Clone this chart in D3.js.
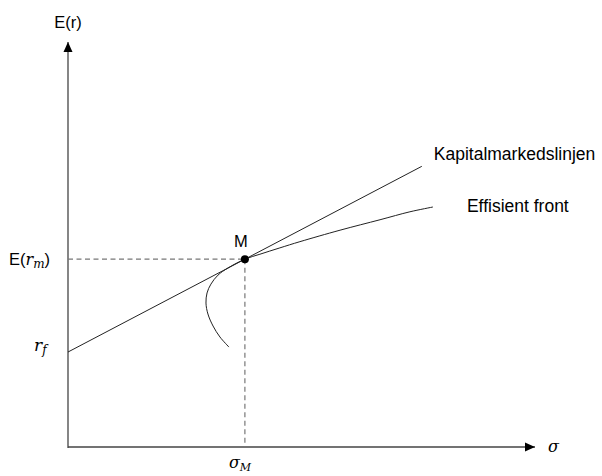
<!DOCTYPE html>
<html>
<head>
<meta charset="utf-8">
<script src="https://cdn.jsdelivr.net/npm/d3@7/dist/d3.min.js"></script>
<style>
  html, body { margin: 0; padding: 0; background: #fff; }
  svg { display: block; }
</style>
</head>
<body>
<svg id="chart" width="602" height="476"></svg>
<script>
// ---- data (sigma = risk, mu = expected return, arbitrary units) ----
const axisExtent = [26.4, 22.9];          // [sigma max, E(r) max]
const riskFree = 5.37;                    // r_f
const marketPoint = [10.0, 10.62];        // [sigma_M, E(r_m)]
const cmlSigma = [0, 20.0];
const cmlMu = [5.37, 15.87];
const frontierSigma = [9.10, 8.59, 8.20, 7.91, 7.80, 7.86, 8.08, 8.48, 9.04, 10.0, 10.85, 11.98, 13.11, 15.38, 17.64, 19.33, 20.63];
const frontierMu    = [5.65, 6.22, 6.84, 7.52, 8.14, 8.71, 9.21, 9.72, 10.12, 10.62, 10.90, 11.26, 11.61, 12.26, 12.85, 13.30, 13.57];
const seriesLabels = ["Kapitalmarkedslinjen", "Effisient front"];
const axisTitles = ["E(r)", "σ"];

// ---- scales ----
const svg = d3.select("#chart");
const x = d3.scaleLinear().domain([0, axisExtent[0]]).range([68, 535]);
const y = d3.scaleLinear().domain([0, axisExtent[1]]).range([447, 42]);

const sans = "'Liberation Sans', Arial, sans-serif";
const serif = "'DejaVu Serif', 'Liberation Serif', serif";
const axisColor = "#444";

// ---- axes (domain lines only) with arrowheads ----
const defs = svg.append("defs");
defs.append("marker")
  .attr("id", "arrow")
  .attr("viewBox", "0 0 10 10")
  .attr("refX", 10).attr("refY", 5)
  .attr("markerWidth", 10).attr("markerHeight", 10)
  .attr("markerUnits", "userSpaceOnUse")
  .attr("orient", "auto")
  .append("path")
  .attr("d", "M0,0.5 L10,5 L0,9.5 Z")
  .attr("fill", "#000");

svg.append("line")
  .attr("x1", x(0)).attr("y1", y(0))
  .attr("x2", x(axisExtent[0])).attr("y2", y(0))
  .attr("stroke", axisColor).attr("stroke-width", 1.3)
  .attr("marker-end", "url(#arrow)");
svg.append("line")
  .attr("x1", x(0)).attr("y1", y(0) + 1)
  .attr("x2", x(0)).attr("y2", y(axisExtent[1]))
  .attr("stroke", axisColor).attr("stroke-width", 1.3)
  .attr("marker-end", "url(#arrow)");

// ---- dashed guides to M ----
svg.append("line")
  .attr("x1", x(0)).attr("y1", y(marketPoint[1]))
  .attr("x2", x(marketPoint[0])).attr("y2", y(marketPoint[1]))
  .attr("stroke", "#777").attr("stroke-width", 1.2)
  .attr("stroke-dasharray", "5,3.5");
svg.append("line")
  .attr("x1", x(marketPoint[0])).attr("y1", y(marketPoint[1]))
  .attr("x2", x(marketPoint[0])).attr("y2", y(0))
  .attr("stroke", "#777").attr("stroke-width", 1.2)
  .attr("stroke-dasharray", "5,3.5");

// ---- capital market line ----
const line = d3.line().x(d => x(d[0])).y(d => y(d[1]));
svg.append("path")
  .datum(d3.zip(cmlSigma, cmlMu))
  .attr("d", line)
  .attr("fill", "none").attr("stroke", "#222").attr("stroke-width", 1);

// ---- efficient frontier ----
svg.append("path")
  .datum(d3.zip(frontierSigma, frontierMu))
  .attr("d", line.curve(d3.curveCatmullRom.alpha(0.5)))
  .attr("fill", "none").attr("stroke", "#222").attr("stroke-width", 1);

// ---- market portfolio point ----
svg.append("circle")
  .attr("cx", x(marketPoint[0])).attr("cy", y(marketPoint[1]))
  .attr("r", 4).attr("fill", "#000");

// ---- labels ----
svg.append("text")
  .attr("x", x(0)).attr("y", 28)
  .attr("text-anchor", "middle")
  .attr("font-family", sans).attr("font-size", 16.5)
  .text(axisTitles[0]);

svg.append("text")
  .attr("x", x(axisExtent[0]) + 13).attr("y", y(0) + 5)
  .attr("font-family", serif).attr("font-style", "italic").attr("font-size", 16)
  .text(axisTitles[1]);

svg.append("text")
  .attr("x", x(marketPoint[0]) - 4).attr("y", y(marketPoint[1]) - 12)
  .attr("text-anchor", "middle")
  .attr("font-family", sans).attr("font-size", 16.5)
  .text("M");

svg.append("text")
  .attr("x", x(cmlSigma[1]) + 12).attr("y", y(cmlMu[1]) - 6)
  .attr("font-family", sans).attr("font-size", 17.5)
  .text(seriesLabels[0]);

svg.append("text")
  .attr("x", x(frontierSigma[frontierSigma.length - 1]) + 34)
  .attr("y", y(frontierMu[frontierMu.length - 1]) + 5)
  .attr("font-family", sans).attr("font-size", 17.5)
  .text(seriesLabels[1]);

// E(r_m)
const erm = svg.append("text")
  .attr("x", 9).attr("y", y(marketPoint[1]) + 6)
  .attr("font-family", sans).attr("font-size", 16.5);
erm.append("tspan").text("E(");
erm.append("tspan").attr("font-family", serif).attr("font-style", "italic").attr("font-size", 16).text("r");
erm.append("tspan").attr("font-family", serif).attr("font-style", "italic").attr("font-size", 12).attr("dy", 3).text("m");
erm.append("tspan").attr("dy", -3).text(")");

// r_f
const rfl = svg.append("text")
  .attr("x", 34).attr("y", y(riskFree) - 1)
  .attr("font-family", serif).attr("font-style", "italic").attr("font-size", 17);
rfl.append("tspan").text("r");
rfl.append("tspan").attr("font-size", 12).attr("dy", 3).text("f");

// sigma_M
const sm = svg.append("text")
  .attr("x", x(marketPoint[0]) - 16).attr("y", y(0) + 21)
  .attr("font-family", serif).attr("font-style", "italic").attr("font-size", 16);
sm.append("tspan").text("σ");
sm.append("tspan").attr("font-size", 11).attr("dy", 3).text("M");
</script>
</body>
</html>
